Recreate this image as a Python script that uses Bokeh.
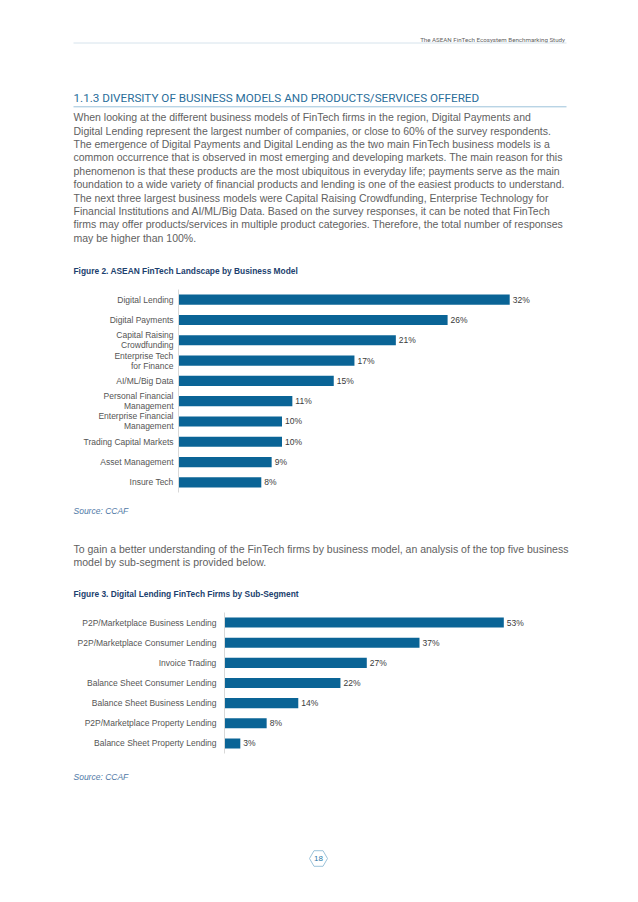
from bokeh.plotting import figure
from bokeh.models import Range1d, FactorRange, ColumnDataSource
from bokeh.layouts import column
from bokeh.embed import file_html
from bokeh.resources import INLINE
from bokeh.core.properties import value

# ---------------- data ----------------
header_text = "The ASEAN FinTech Ecosystem  Benchmarking Study"
section_title = "1.1.3  DIVERSITY OF BUSINESS MODELS AND PRODUCTS/SERVICES OFFERED"
para1 = [
    "When looking at the different business models of FinTech firms in the region, Digital Payments and",
    "Digital Lending represent the largest number of companies, or close to 60% of the survey respondents.",
    "The emergence of Digital Payments and Digital Lending as the two main FinTech business models is a",
    "common occurrence that is observed in most emerging and developing markets. The main reason for this",
    "phenomenon is that these products are the most ubiquitous in everyday life; payments serve as the main",
    "foundation to a wide variety of financial products and lending is one of the easiest products to understand.",
    "The next three largest business models were Capital Raising Crowdfunding, Enterprise Technology for",
    "Financial Institutions and AI/ML/Big Data. Based on the survey responses, it can be noted that FinTech",
    "firms may offer products/services in multiple product categories. Therefore, the total number of responses",
    "may be higher than 100%.",
]
fig2_title = "Figure 2. ASEAN FinTech Landscape by Business Model"
models = [
    "Digital Lending",
    "Digital Payments",
    "Capital Raising\nCrowdfunding",
    "Enterprise Tech\nfor Finance",
    "AI/ML/Big Data",
    "Personal Financial\nManagement",
    "Enterprise Financial\nManagement",
    "Trading Capital Markets",
    "Asset Management",
    "Insure Tech",
]
model_pct = [32, 26, 21, 17, 15, 11, 10, 10, 9, 8]
source_note = "Source: CCAF"
para2 = [
    "To gain a better understanding of the FinTech firms by business model, an analysis of the top five business",
    "model by sub-segment is provided below.",
]
fig3_title = "Figure 3. Digital Lending FinTech Firms by Sub-Segment"
segments = [
    "P2P/Marketplace Business Lending",
    "P2P/Marketplace Consumer Lending",
    "Invoice Trading",
    "Balance Sheet Consumer Lending",
    "Balance Sheet Business Lending",
    "P2P/Marketplace Property Lending",
    "Balance Sheet Property Lending",
]
segment_pct = [53, 37, 27, 22, 14, 8, 3]
page_number = "18"

# ---------------- styles ----------------
W = 622
PX0, PX1 = 0, 622
LM, RM = 73, 566
BAR = "#0a6496"
BODY = "#616161"
HEAD = "#2a6e9a"
NAVY = "#1c3f6e"
SRC = "#4f79a6"
FONT = "Liberation Sans"
COND = "Roboto"


def panel(top, bottom):
    p = figure(width=W, height=bottom - top, x_range=Range1d(PX0, PX1),
               y_range=Range1d(bottom, top), output_backend="svg",
               toolbar_location=None, x_axis_location=None, y_axis_location=None,
               min_border=0, frame_align=False)
    p.grid.visible = False
    p.outline_line_color = None
    p.background_fill_color = "white"
    p.border_fill_color = "white"
    return p


def txt(p, x, y, s, size, color, font=FONT, style="normal", align="left"):
    p.text(x=[x], y=[y], text=[s], text_font=value(font), text_font_size=size,
           text_color=color, text_font_style=style, text_align=align,
           text_baseline="middle")


def rule(p, y, color, width=1.0):
    p.segment(x0=[LM], y0=[y], x1=[RM], y1=[y], line_color=color, line_width=width)


def bar_chart(cats, vals, left_px, px_per_pct, top_b, band_px, bottom_b, bar_h, standoff):
    frame_h = int(round(band_px * len(cats)))
    p = figure(width=W, height=top_b + frame_h + bottom_b,
               y_range=FactorRange(factors=list(reversed(cats))),
               x_range=Range1d(0, (W - left_px) / px_per_pct),
               output_backend="svg", toolbar_location=None,
               x_axis_location=None, frame_align=False,
               min_border_left=left_px, min_border_right=0,
               min_border_top=top_b, min_border_bottom=bottom_b)
    src = ColumnDataSource(dict(cat=cats, val=vals, lab=[f"{v}%" for v in vals]))
    p.hbar(y="cat", left=0, right="val", height=bar_h, source=src,
           fill_color=BAR, line_color=None)
    p.text(x="val", y="cat", text="lab", source=src, x_offset=3,
           text_font=value(FONT), text_font_size="8.5px", text_color="#3a3a3a",
           text_baseline="middle", text_align="left")
    p.grid.visible = False
    p.outline_line_color = None
    ax = p.yaxis[0]
    ax.axis_line_color = "#d8d8d8"
    ax.axis_line_width = 1
    ax.major_tick_line_color = None
    ax.minor_tick_line_color = None
    ax.major_tick_out = 0
    ax.major_label_standoff = standoff
    ax.major_label_text_font = FONT
    ax.major_label_text_font_size = "8.5px"
    ax.major_label_text_color = "#555555"
    ax.major_label_text_line_height = 1.0
    p.background_fill_color = "white"
    p.border_fill_color = "white"
    return p


# ---------------- top text ----------------
top = panel(0, 284)
txt(top, RM, 39.3, header_text, "6.2px", "#5f5f5f", font=COND, align="right")
rule(top, 42.5, "#d6e3ec")
txt(top, LM, 97.3, section_title, "11.7px", HEAD, font=COND)
rule(top, 106.3, "#9cc2da")
for i, line in enumerate(para1):
    txt(top, LM, 116.7 + i * 13.4, line, "10.5px", BODY)
txt(top, LM, 270, fig2_title, "8.4px", NAVY, style="bold")

# ---------------- chart 1 ----------------
c1 = bar_chart(models, model_pct, left_px=178, px_per_pct=10.35,
               top_b=5, band_px=20.3, bottom_b=5, bar_h=0.5, standoff=5)

# ---------------- middle text ----------------
mid = panel(497, 600)
txt(mid, LM, 510, source_note, "8.5px", SRC, style="italic")
for i, line in enumerate(para2):
    txt(mid, LM, 548.7 + i * 12.7, line, "10.5px", BODY)
txt(mid, LM, 593.3, fig3_title, "8.4px", NAVY, style="bold")

# ---------------- chart 2 ----------------
c2 = bar_chart(segments, segment_pct, left_px=224, px_per_pct=5.27,
               top_b=12, band_px=20.1, bottom_b=11, bar_h=0.5, standoff=8)

# ---------------- bottom ----------------
bot = panel(764, 886)
txt(bot, LM, 776.7, source_note, "8.5px", SRC, style="italic")
bot.scatter(x=[318], y=[858], marker="hex", size=18, fill_color=None,
            line_color="#9cc3da", line_width=1)
txt(bot, 318, 858, page_number, "8px", "#2a77a8", align="center")

layout = column(top, c1, mid, c2, bot, spacing=0)
open("out.html", "w").write(file_html(layout, INLINE))
